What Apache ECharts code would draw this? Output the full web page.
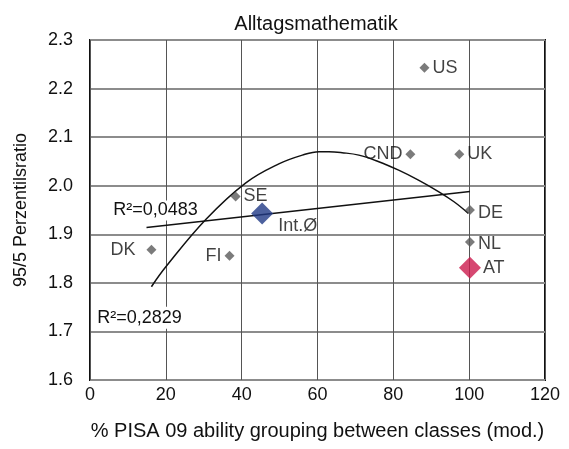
<!DOCTYPE html>
<html>
<head>
<meta charset="utf-8">
<script src="https://cdn.jsdelivr.net/npm/echarts@6/dist/echarts.min.js"></script>
<style>
  html, body { margin: 0; padding: 0; background: #fff; }
  #chart { width: 569px; height: 449px; }
</style>
</head>
<body>
<div id="chart"></div>
<script>
// Countries: share of ability grouping between classes vs. 95/5 percentile ratio
const countries = ['US', 'CND', 'UK', 'SE', 'DE', 'DK', 'FI', 'NL'];
const grouping  = [88.2, 84.5, 97.4, 38.4, 100.2, 16.2, 36.8, 100.2];
const ratio     = [2.243, 2.065, 2.065, 1.978, 1.950, 1.868, 1.856, 1.884];

// Highlighted points
const avgName = 'Int.Ø';
const avgPoint = [45.4, 1.943];
const atName = 'AT';
const atPoint = [100.2, 1.831];

// Linear trend (R² = 0,0483)
const linTrendX = [14.9, 100.2];
const linTrendY = [1.914, 1.988];
const linR2 = 'R²=0,0483';

// Polynomial trend (R² = 0,2829)
const polyTrendX = [16.2, 20.0, 30.6, 41.1, 49.8, 56.0, 60.4, 63.0, 66.5, 70.9, 76.0, 81.4, 86.5, 91.9, 96.0, 99.8];
const polyTrendY = [1.792, 1.833, 1.931, 2.006, 2.045, 2.063, 2.070, 2.070, 2.068, 2.063, 2.050, 2.032, 2.012, 1.988, 1.967, 1.943];
const polyR2 = 'R²=0,2829';

const xTicks = [0, 120, 20];
const yTicks = [1.6, 2.3, 0.1];

const labelPos = { US: 'right', CND: 'left', UK: 'right', SE: 'right', DE: 'right', DK: 'left', FI: 'left', NL: 'right' };
const labelShift = { DK: [-8, 0], DE: [0, 3], NL: [0, 2] };

const FONT = 'Liberation Sans, Arial, sans-serif';
const INK = '#111';
const chart = echarts.init(document.getElementById('chart'), null, { renderer: 'canvas' });

const zip = (xs, ys) => xs.map((x, i) => [x, ys[i]]);

chart.setOption({
  animation: false,
  backgroundColor: '#fff',
  title: {
    text: 'Alltagsmathematik',
    left: 311, top: 9, textAlign: 'center',
    textStyle: { fontFamily: FONT, fontSize: 20, fontWeight: 'normal', color: INK }
  },
  grid: {
    left: 90, right: 24, top: 40, bottom: 69, outerBoundsMode: 'none', containLabel: false,
    show: true, borderColor: '#111', borderWidth: 2, backgroundColor: '#fff'
  },
  xAxis: {
    type: 'value', min: xTicks[0], max: xTicks[1], interval: xTicks[2],
    name: '% PISA 09 ability grouping between classes (mod.)',
    nameLocation: 'middle', nameGap: 41,
    nameTextStyle: { fontFamily: FONT, fontSize: 20, color: INK },
    axisLine: { show: false }, axisTick: { show: false },
    axisLabel: { fontFamily: FONT, fontSize: 18, color: INK, margin: 6 },
    splitLine: { show: true, lineStyle: { color: '#555', width: 1 } }
  },
  yAxis: {
    type: 'value', min: yTicks[0], max: yTicks[1], interval: yTicks[2],
    name: '95/5 Perzentilsratio',
    nameLocation: 'middle', nameGap: 60, nameRotate: 90,
    nameTextStyle: { fontFamily: FONT, fontSize: 18, color: INK },
    axisLine: { show: false }, axisTick: { show: false },
    axisLabel: { fontFamily: FONT, fontSize: 18, color: INK, margin: 17, formatter: v => v.toFixed(1) },
    splitLine: { show: true, lineStyle: { color: '#8c8c8c', width: 2 } }
  },
  series: [
    {
      type: 'line', data: zip(linTrendX, linTrendY), showSymbol: false, z: 3,
      lineStyle: { color: '#111', width: 1.5 },
      markPoint: {
        symbol: 'rect', symbolSize: 0,
        data: [{ coord: [linTrendX[0], linTrendY[0]] }],
        label: {
          show: true, formatter: linR2, position: 'inside', offset: [9, -17],
          fontFamily: FONT, fontSize: 18, color: INK,
          backgroundColor: '#fff', padding: [1, 2]
        }
      }
    },
    {
      type: 'line', data: zip(polyTrendX, polyTrendY), showSymbol: false, smooth: 0.4, z: 3,
      lineStyle: { color: '#111', width: 1.5 },
      markPoint: {
        symbol: 'rect', symbolSize: 0,
        data: [{ coord: [polyTrendX[0], polyTrendY[0]] }],
        label: {
          show: true, formatter: polyR2, position: 'inside', offset: [-12, 31],
          fontFamily: FONT, fontSize: 18, color: INK,
          backgroundColor: '#fff', padding: [2, 4]
        }
      }
    },
    {
      type: 'scatter', symbol: 'diamond', symbolSize: 10, z: 5,
      itemStyle: { color: '#5a5a5a' },
      data: countries.map((c, i) => ({
        name: c, value: [grouping[i], ratio[i]],
        label: { position: labelPos[c], offset: labelShift[c] || [0, 0] }
      })),
      label: {
        show: true, formatter: '{b}', distance: 3,
        fontFamily: FONT, fontSize: 18, color: INK
      }
    },
    {
      type: 'scatter', symbol: 'diamond', symbolSize: 22, z: 6,
      data: [
        { name: avgName, value: avgPoint, itemStyle: { color: '#203a86' },
          label: { position: 'right', offset: [0, 13] } },
        { name: atName, value: atPoint, itemStyle: { color: '#cc1a4e' },
          label: { position: 'right', offset: [-3, 0] } }
      ],
      label: { show: true, formatter: '{b}', fontFamily: FONT, fontSize: 18, color: INK }
    }
  ]
});
</script>
</body>
</html>
